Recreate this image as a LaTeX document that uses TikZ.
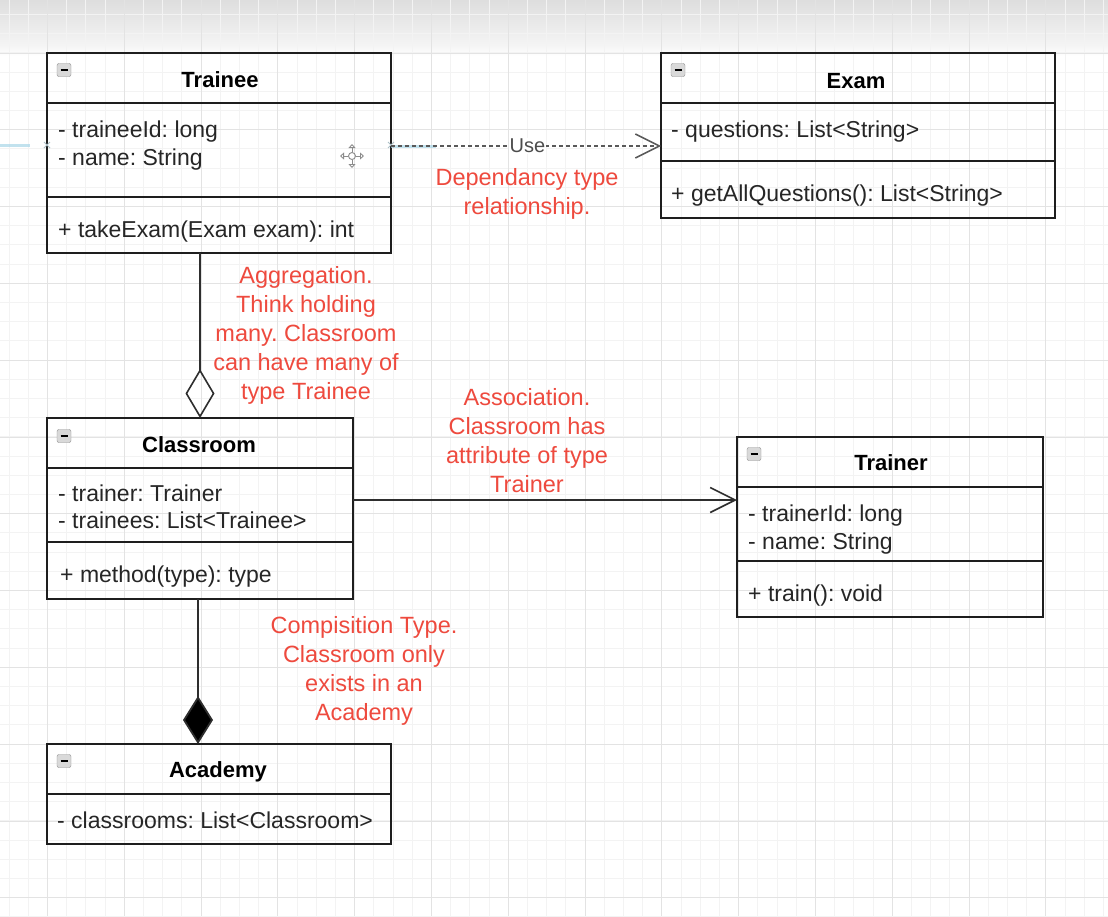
\documentclass[tikz,border=0pt]{standalone}
\usepackage{fontspec}
\setmainfont{Liberation Sans}
\usetikzlibrary{arrows.meta,calc}
\definecolor{redtxt}{HTML}{EE4A3E}
\definecolor{boxline}{HTML}{1E1E1E}
\definecolor{connc}{HTML}{2E2E2E}
\definecolor{minorg}{HTML}{F3F3F3}
\definecolor{majorg}{HTML}{E3E3E3}
\definecolor{selblue}{HTML}{A9D6E8}
\definecolor{membertxt}{HTML}{262626}
\begin{document}
\frenchspacing
\begin{tikzpicture}[x=1pt,y=-1pt,
  classbox/.style={draw=boxline, line width=1.8pt, inner sep=0pt, outer sep=0pt, anchor=north west},
  divider/.style={draw=boxline, line width=1.6pt},
  titletxt/.style={font=\fontsize{22}{26}\selectfont\bfseries, anchor=base, inner sep=0pt, text=black},
  member/.style={font=\fontsize{23}{27}\selectfont, anchor=base west, inner sep=0pt, text=membertxt},
  note/.style={font=\fontsize{23.5}{29}\selectfont, text=redtxt, align=center, anchor=north, inner sep=0pt},
  connline/.style={draw=connc, line width=1.8pt},
  deplabel/.style={font=\fontsize{20}{24}\selectfont, text=black!70, fill=white, inner sep=1pt},
  iconbox/.style={draw=black!45, fill=black!15, rounded corners=2pt, minimum width=14pt, minimum height=13pt, inner sep=0pt, font=\fontsize{8}{8}\selectfont},
  minorgrid/.style={draw=minorg, line width=1pt},
  majorgrid/.style={draw=majorg, line width=1pt}
]
\useasboundingbox (0,0) rectangle (1108,916);
\clip (0,0) rectangle (1108,916);
\fill[white] (0,0) rectangle (1108,916);
% top band
\shade[top color=black!13, bottom color=black!4] (0,0) rectangle (1108,46);
\shade[top color=black!4, bottom color=white] (0,46) rectangle (1108,56);
% grid
\foreach \i in {0,...,58} {\pgfmathsetmacro{\gx}{round(-10.6+19.2*\i)+0.5}\draw[minorgrid] (\gx,0) -- (\gx,916);}
\foreach \i in {0,...,48} {\pgfmathsetmacro{\gy}{round(-5.1+19.2*\i)+0.5}\draw[minorgrid] (0,\gy) -- (1108,\gy);}
\foreach \i in {0,...,14} {\pgfmathsetmacro{\gx}{round(47+76.8*\i)+0.5}\draw[majorgrid] (\gx,0) -- (\gx,916);}
\foreach \i in {0,...,11} {\pgfmathsetmacro{\gy}{round(52.5+76.8*\i)+0.5}\draw[majorgrid] (0,\gy) -- (1108,\gy);}

% ---------- Trainee ----------
\node[classbox, minimum width=344pt, minimum height=200pt] (trainee) at (47,53) {};
\draw[divider] ($(trainee.north west)+(0,50)$) -- ($(trainee.north east)+(0,50)$);
\draw[divider] ($(trainee.north west)+(0,144)$) -- ($(trainee.north east)+(0,144)$);
\node[iconbox] (traineeicon) at ($(trainee.north west)+(17,17)$) {\rule{7pt}{1.6pt}};
\node[titletxt] (traineetitle) at (220,87) {Trainee};
\node[member] (traineeA) at (58,137) {- traineeId: long};
\node[member] (traineeB) at (58,165) {- name: String};
\node[member] (traineeM) at (58,237) {+ takeExam(Exam exam): int};

% move icon
\coordinate (moveicon) at (352,156);
\begin{scope}[draw=black!45, line width=0.9pt]
  \draw (moveicon) circle (3.5pt);
  \draw[-{Triangle[open,length=4pt,width=7pt]}] ($(moveicon)+(0,-4)$) -- ++(0,-8);
  \draw[-{Triangle[open,length=4pt,width=7pt]}] ($(moveicon)+(0,4)$) -- ++(0,8);
  \draw[-{Triangle[open,length=4pt,width=7pt]}] ($(moveicon)+(-4,0)$) -- ++(-8,0);
  \draw[-{Triangle[open,length=4pt,width=7pt]}] ($(moveicon)+(4,0)$) -- ++(8,0);
\end{scope}

% ---------- Exam ----------
\node[classbox, minimum width=394pt, minimum height=165pt] (exam) at (661,53) {};
\draw[divider] ($(exam.north west)+(0,50)$) -- ($(exam.north east)+(0,50)$);
\draw[divider] ($(exam.north west)+(0,108)$) -- ($(exam.north east)+(0,108)$);
\node[iconbox] (examicon) at ($(exam.north west)+(17,17)$) {\rule{7pt}{1.6pt}};
\node[titletxt] (examtitle) at (856,88) {Exam};
\node[member] (examA) at (671,137) {- questions: List<String>};
\node[member] (examM) at (671,201) {+ getAllQuestions(): List<String>};

% ---------- Classroom ----------
\node[classbox, minimum width=306pt, minimum height=181pt] (classroom) at (47,418) {};
\draw[divider] ($(classroom.north west)+(0,50)$) -- ($(classroom.north east)+(0,50)$);
\draw[divider] ($(classroom.north west)+(0,124)$) -- ($(classroom.north east)+(0,124)$);
\node[iconbox] (classroomicon) at ($(classroom.north west)+(17,18)$) {\rule{7pt}{1.6pt}};
\node[titletxt] (classroomtitle) at (199,452) {Classroom};
\node[member] (classroomA) at (58,501) {- trainer: Trainer};
\node[member] (classroomB) at (58,528) {- trainees: List<Trainee>};
\node[member] (classroomM) at (60,582) {+ method(type): type};

% ---------- Trainer ----------
\node[classbox, minimum width=306pt, minimum height=180pt] (trainer) at (737,437) {};
\draw[divider] ($(trainer.north west)+(0,50)$) -- ($(trainer.north east)+(0,50)$);
\draw[divider] ($(trainer.north west)+(0,124)$) -- ($(trainer.north east)+(0,124)$);
\node[iconbox] (trainericon) at ($(trainer.north west)+(17,17)$) {\rule{7pt}{1.6pt}};
\node[titletxt] (trainertitle) at (891,470) {Trainer};
\node[member] (trainerA) at (748,521) {- trainerId: long};
\node[member] (trainerB) at (748,549) {- name: String};
\node[member] (trainerM) at (748,601) {+ train(): void};

% ---------- Academy ----------
\node[classbox, minimum width=344pt, minimum height=100pt] (academy) at (47,744) {};
\draw[divider] ($(academy.north west)+(0,50)$) -- ($(academy.north east)+(0,50)$);
\node[iconbox] (academyicon) at ($(academy.north west)+(17,17)$) {\rule{7pt}{1.6pt}};
\node[titletxt] (academytitle) at (218,777) {Academy};
\node[member] (academyA) at (57,828) {- classrooms: List<Classroom>};

% ---------- selection artefacts ----------
\coordinate (leftstub) at (0,145);
\draw[selblue, line width=3pt, opacity=0.7] (leftstub) -- ($(trainee.north west)+(-17,92)$);
\draw[selblue, line width=3pt, opacity=0.7] ($(trainee.north east)+(0,93)$) -- ++(45,0);
\foreach \p in {trainee.north west, trainee.north east} {
  \draw[selblue!70!black!60, line width=1pt] ($(\p)+(-3,89)$) -- ++(6,6) ($(\p)+(-3,95)$) -- ++(6,-6);
}

% ---------- connectors ----------
% dependency
\draw[draw=black!65, line width=1.5pt, dash pattern=on 4pt off 3pt,
      -{Straight Barb[length=24pt,width=24pt,line width=1.5pt]}]
  ($(trainee.north east)+(0,93)$) -- node[deplabel, pos=0.505] (uselbl) {Use}
  ($(exam.north west)+(0,93)$);
% aggregation
\draw[connline, -{Diamond[open, length=49pt, width=29pt, line width=1.6pt]}]
  ($(trainee.south west)+(153,0)$) -- ($(classroom.north west)+(153,0)$);
% association
\draw[connline, -{Straight Barb[length=25pt,width=25pt,line width=1.6pt]}]
  ($(classroom.north east)+(0,82)$) -- ($(trainer.north west)+(0,63)$);
% composition
\draw[connline, -{Diamond[length=48pt, width=30pt, fill=black]}]
  ($(classroom.south west)+(151,0)$) -- ($(academy.north west)+(151,0)$);

% ---------- notes ----------
\node[note] (depnote) at (527,168) {Dependancy type\\relationship.};
\node[note] (aggnote) at (306,266) {Aggregation.\\Think holding\\many. Classroom\\can have many of\\type Trainee};
\node[note] (assocnote) at (527,388) {Association.\\Classroom has\\attribute of type\\Trainer};
\node[note] (compnote) at (364,616) {Compisition Type.\\Classroom only\\exists in an\\Academy};
\end{tikzpicture}
\end{document}
